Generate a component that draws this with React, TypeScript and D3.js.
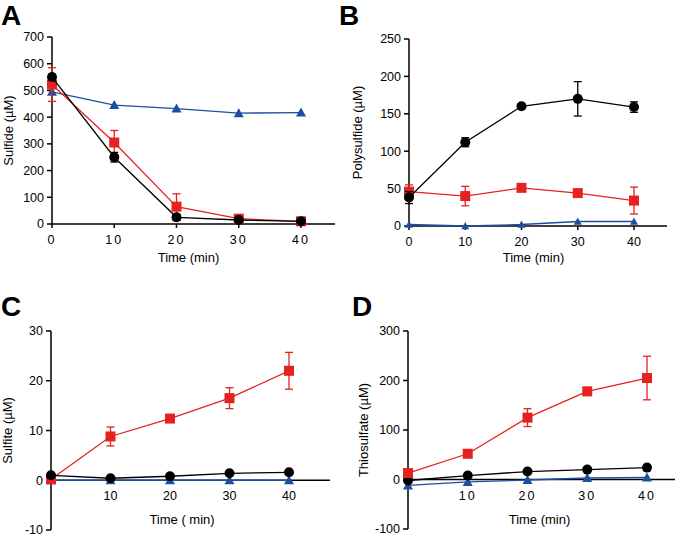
import React from "react";
import * as d3 from "d3";

const times = [0, 10, 20, 30, 40];

// Panel A – Sulfide
const aBlack = [550, 250, 25, 15, 10];
const aBlackErr = [10, 18, 12, 5, 5];
const aRed = [522, 305, 65, 20, 10];
const aRedErr = [63, 45, 48, 6, 5];
const aBlue = [495, 445, 432, 415, 417];
const aBlueErr = [0, 0, 0, 0, 0];
const aYTicks = [0, 100, 200, 300, 400, 500, 600, 700];

// Panel B – Polysulfide
const bBlack = [38, 112, 160, 170, 159];
const bBlackErr = [8, 6, 3, 23, 7];
const bRed = [46, 40, 51, 44, 34];
const bRedErr = [9, 13, 3, 3, 18];
const bBlue = [2, 0, 2, 6, 6];
const bBlueErr = [0, 0, 0, 0, 0];
const bYTicks = [0, 50, 100, 150, 200, 250];

// Panel C – Sulfite
const cBlack = [1, 0.4, 0.8, 1.4, 1.6];
const cBlackErr = [0, 0, 0, 0, 0];
const cRed = [0.2, 8.8, 12.4, 16.5, 22];
const cRedErr = [0, 1.9, 0.3, 2.1, 3.7];
const cBlue = [0, 0, 0, 0, 0];
const cBlueErr = [0, 0, 0, 0, 0];
const cYTicks = [-10, 0, 10, 20, 30];
const cXTicks = [10, 20, 30, 40];

// Panel D – Thiosulfate
const dBlack = [-2, 8, 16, 20, 24];
const dBlackErr = [0, 0, 0, 0, 0];
const dRed = [13, 52, 125, 178, 205];
const dRedErr = [0, 0, 18, 8, 44];
const dBlue = [-12, -5, -1, 3, 4];
const dBlueErr = [0, 0, 0, 0, 0];
const dYTicks = [-100, 0, 100, 200, 300];
const dXTicks = [10, 20, 30, 40];

const RED = "#e5221f";
const BLUE = "#1d4f9e";
const BLACK = "#000000";
const FONT = "Liberation Sans, Arial, sans-serif";

type Series = { vals: number[]; err: number[]; color: string; shape: "circle" | "square" | "triangle"; size?: number };

type PanelProps = {
  letter: string;
  letterX: number;
  letterY: number;
  x0: number;
  x40: number;
  axisEnd: number;
  yDomain: [number, number];
  yRange: [number, number];
  yTicks: number[];
  xTicks: number[];
  xTickMarks: boolean;
  yLabel: string;
  yLabelX: number;
  xLabel: string;
  xLabelY: number;
  series: Series[];
  xLetterSpacing?: number;
};

function Marker({ cx, cy, s }: { cx: number; cy: number; s: Series }) {
  const sz = s.size ?? 1;
  if (s.shape === "circle") return <circle cx={cx} cy={cy} r={5 * sz} fill={s.color} />;
  if (s.shape === "square") {
    const h = 5 * sz;
    return <rect x={cx - h} y={cy - h} width={2 * h} height={2 * h} fill={s.color} />;
  }
  const h = 5 * sz;
  return <path d={`M${cx},${cy - h}L${cx + h},${cy + h * 0.8}L${cx - h},${cy + h * 0.8}Z`} fill={s.color} />;
}

function Panel(p: PanelProps) {
  const x = d3.scaleLinear().domain([0, 40]).range([p.x0, p.x40]);
  const y = d3.scaleLinear().domain(p.yDomain).range(p.yRange);
  const y0 = y(0);
  const line = d3
    .line<number>()
    .x((_, i) => x(times[i]))
    .y((v) => y(v));
  const yMid = (p.yRange[0] + p.yRange[1]) / 2;
  return (
    <g fontFamily={FONT}>
      <text x={p.letterX} y={p.letterY} fontSize={28} fontWeight="bold">
        {p.letter}
      </text>
      {/* y axis */}
      <line x1={p.x0} x2={p.x0} y1={p.yRange[0]} y2={p.yRange[1]} stroke="#000" strokeWidth={1.5} />
      {p.yTicks.map((t) => (
        <g key={t}>
          <line x1={p.x0 - 5} x2={p.x0} y1={y(t)} y2={y(t)} stroke="#000" strokeWidth={1.5} />
          <text x={p.x0 - 8} y={y(t)} dy="0.35em" textAnchor="end" fontSize={12.5}>
            {t}
          </text>
        </g>
      ))}
      {/* x axis at zero */}
      <line x1={p.x0} x2={p.axisEnd} y1={y0} y2={y0} stroke="#000" strokeWidth={1.5} />
      {p.xTicks.map((t) => (
        <g key={t}>
          {p.xTickMarks && <line x1={x(t)} x2={x(t)} y1={y0} y2={y0 + 4} stroke="#000" strokeWidth={1.5} />}
          <text
            x={x(t)}
            y={y0 + 20}
            textAnchor="middle"
            fontSize={12.5}
            letterSpacing={p.xLetterSpacing ?? 0}
          >
            {t}
          </text>
        </g>
      ))}
      <text
        transform={`translate(${p.yLabelX},${yMid}) rotate(-90)`}
        textAnchor="middle"
        fontSize={13}
      >
        {p.yLabel}
      </text>
      <text x={(p.x0 + p.x40) / 2 + 12} y={p.xLabelY} textAnchor="middle" fontSize={13}>
        {p.xLabel}
      </text>
      {p.series.map((s, si) => (
        <g key={si}>
          <path d={line(s.vals) ?? ""} fill="none" stroke={s.color} strokeWidth={1.3} />
          {s.vals.map((v, i) =>
            s.err[i] > 0 ? (
              <g key={i} stroke={s.color} strokeWidth={1.3}>
                <line x1={x(times[i])} x2={x(times[i])} y1={y(v - s.err[i])} y2={y(v + s.err[i])} />
                <line x1={x(times[i]) - 4} x2={x(times[i]) + 4} y1={y(v - s.err[i])} y2={y(v - s.err[i])} />
                <line x1={x(times[i]) - 4} x2={x(times[i]) + 4} y1={y(v + s.err[i])} y2={y(v + s.err[i])} />
              </g>
            ) : null
          )}
          {s.vals.map((v, i) => (
            <Marker key={"m" + i} cx={x(times[i])} cy={y(v)} s={s} />
          ))}
        </g>
      ))}
    </g>
  );
}

export default function App() {
  return (
    <svg
      width={675}
      height={537}
      style={{ position: "absolute", left: 0, top: 0, background: "#fff" }}
    >
      <rect width={675} height={537} fill="#fff" />
      <Panel
        letter="A"
        letterX={1}
        letterY={25}
        x0={52}
        x40={301}
        axisEnd={335}
        yDomain={[0, 700]}
        yRange={[224, 37]}
        yTicks={aYTicks}
        xTicks={times}
        xTickMarks={true}
        xLetterSpacing={2}
        yLabel="Sulfide (µM)"
        yLabelX={13}
        xLabel="Time (min)"
        xLabelY={262}
        series={[
          { vals: aBlue, err: aBlueErr, color: BLUE, shape: "triangle" },
          { vals: aRed, err: aRedErr, color: RED, shape: "square" },
          { vals: aBlack, err: aBlackErr, color: BLACK, shape: "circle" },
        ]}
      />
      <Panel
        letter="B"
        letterX={339}
        letterY={25}
        x0={409}
        x40={634}
        axisEnd={667}
        yDomain={[0, 250]}
        yRange={[226, 39]}
        yTicks={bYTicks}
        xTicks={times}
        xTickMarks={true}
        yLabel="Polysulfide (µM)"
        yLabelX={362}
        xLabel="Time (min)"
        xLabelY={262}
        series={[
          { vals: bBlue, err: bBlueErr, color: BLUE, shape: "triangle", size: 0.8 },
          { vals: bRed, err: bRedErr, color: RED, shape: "square" },
          { vals: bBlack, err: bBlackErr, color: BLACK, shape: "circle" },
        ]}
      />
      <Panel
        letter="C"
        letterX={1}
        letterY={316}
        x0={51}
        x40={289}
        axisEnd={330}
        yDomain={[-10, 30]}
        yRange={[530, 331]}
        yTicks={cYTicks}
        xTicks={cXTicks}
        xTickMarks={false}
        yLabel="Sulfite (µM)"
        yLabelX={12}
        xLabel="Time ( min)"
        xLabelY={524}
        series={[
          { vals: cBlue, err: cBlueErr, color: BLUE, shape: "triangle" },
          { vals: cRed, err: cRedErr, color: RED, shape: "square" },
          { vals: cBlack, err: cBlackErr, color: BLACK, shape: "circle" },
        ]}
      />
      <Panel
        letter="D"
        letterX={352}
        letterY={316}
        x0={408}
        x40={647}
        axisEnd={675}
        yDomain={[-100, 300]}
        yRange={[529, 331]}
        yTicks={dYTicks}
        xTicks={dXTicks}
        xTickMarks={false}
        xLetterSpacing={2}
        yLabel="Thiosulfate (µM)"
        yLabelX={368}
        xLabel="Time (min)"
        xLabelY={524}
        series={[
          { vals: dBlue, err: dBlueErr, color: BLUE, shape: "triangle" },
          { vals: dBlack, err: dBlackErr, color: BLACK, shape: "circle" },
          { vals: dRed, err: dRedErr, color: RED, shape: "square" },
        ]}
      />
    </svg>
  );
}
